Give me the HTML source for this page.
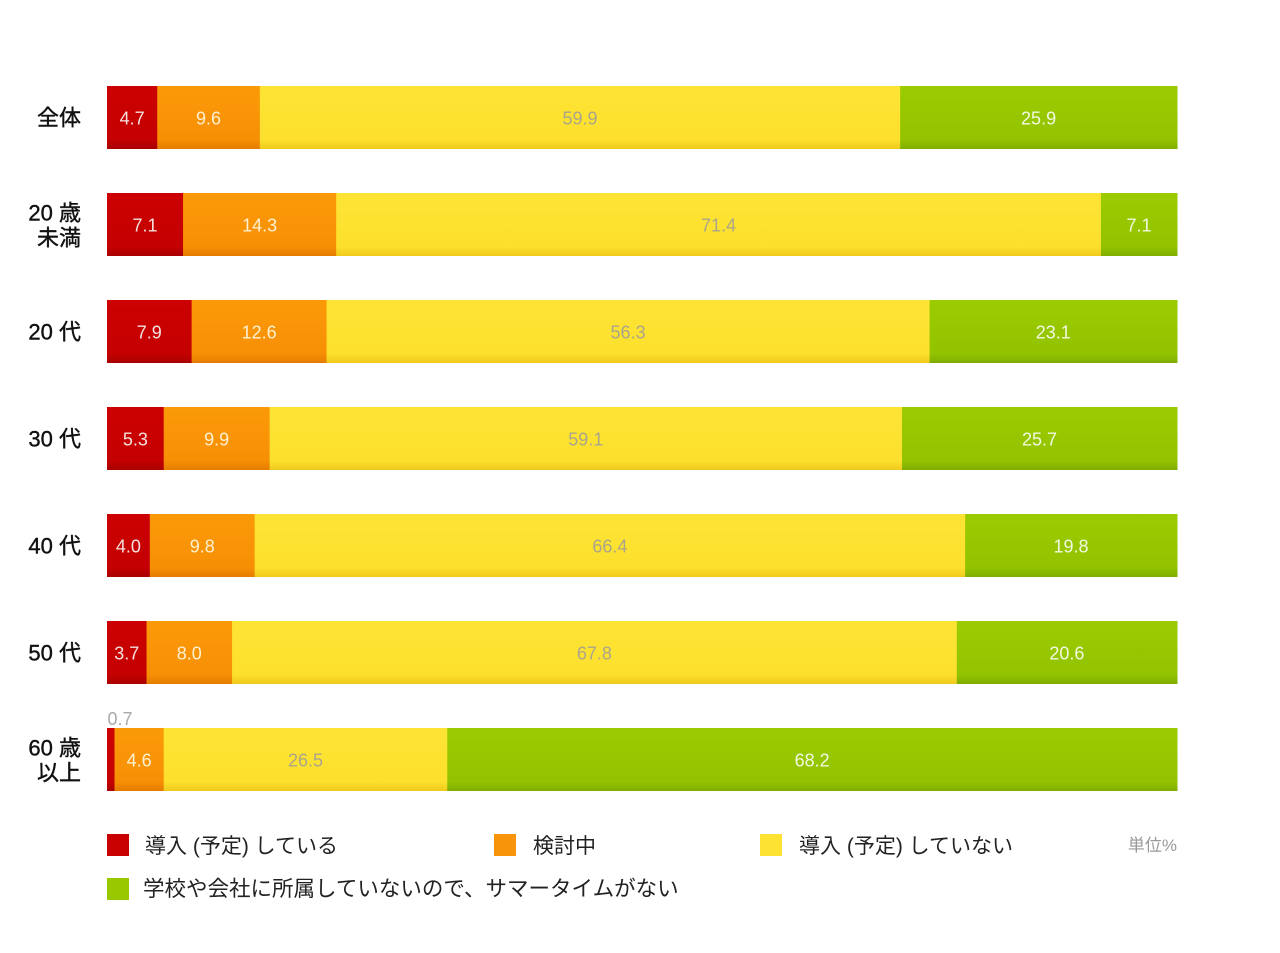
<!DOCTYPE html>
<html><head><meta charset="utf-8"><style>
body{margin:0;background:#fff;width:1280px;height:953px;overflow:hidden;font-family:"Liberation Sans","Noto Sans CJK JP",sans-serif;}
svg{display:block}
</style></head><body>
<svg id="chart" width="1280" height="953" xmlns="http://www.w3.org/2000/svg">
<defs>
<linearGradient id="gr" x1="0" y1="0" x2="0" y2="1"><stop offset="0" stop-color="#cc0000"/><stop offset="0.85" stop-color="#c40000"/><stop offset="1" stop-color="#a80000"/></linearGradient>
<linearGradient id="go" x1="0" y1="0" x2="0" y2="1"><stop offset="0" stop-color="#fb9a08"/><stop offset="0.85" stop-color="#f78f05"/><stop offset="1" stop-color="#e47c00"/></linearGradient>
<linearGradient id="gy" x1="0" y1="0" x2="0" y2="1"><stop offset="0" stop-color="#fde434"/><stop offset="0.85" stop-color="#fde02e"/><stop offset="1" stop-color="#eec91c"/></linearGradient>
<linearGradient id="gg" x1="0" y1="0" x2="0" y2="1"><stop offset="0" stop-color="#9bcb00"/><stop offset="0.85" stop-color="#93c300"/><stop offset="1" stop-color="#80ad00"/></linearGradient>
</defs>
<g id="bars"></g>
<g font-size="21" fill="#222">
<rect x="107" y="834" width="22" height="22" fill="#c80000"/>
<text x="145" y="853">導入 (予定) している</text>
<rect x="494" y="834" width="22" height="22" fill="#f7940a"/>
<text x="533" y="853">検討中</text>
<rect x="760" y="834" width="22" height="22" fill="#fde232"/>
<text x="799" y="853">導入 (予定) していない</text>
<text x="1177" y="851" text-anchor="end" font-size="17" fill="#999">単位%</text>
<rect x="107" y="878" width="22" height="22" fill="#99c800"/>
<text x="143" y="896" font-size="21.5">学校や会社に所属していないので、サマータイムがない</text>
</g>
</svg>
<script>
const categories=[["全体"],["20 歳","未満"],["20 代"],["30 代"],["40 代"],["50 代"],["60 歳","以上"]];
const adopted=[4.7,7.1,7.9,5.3,4.0,3.7,0.7];
const considering=[9.6,14.3,12.6,9.9,9.8,8.0,4.6];
const notAdopted=[59.9,71.4,56.3,59.1,66.4,67.8,26.5];
const noAffiliation=[25.9,7.1,23.1,25.7,19.8,20.6,68.2];
const series=[adopted,considering,notAdopted,noAffiliation];
const seriesNames=["adopted","considering","not-adopted","no-affiliation"];
const fills=["url(#gr)","url(#go)","url(#gy)","url(#gg)"];
const textColors=["#f4e0e0","#fff0d0","#aaa58a","#f2f8e0"];
const NS="http://www.w3.org/2000/svg";
const X0=107,X1=1177,Y0=86,STEP=107,BH=63;
function xScale(v,total){return (v/total)*(X1-X0);}
function yPos(i){return Y0+i*STEP;}
const g=document.getElementById('bars');
categories.forEach((cat,i)=>{
  const total=series.reduce((s,a)=>s+a[i],0);
  const y=yPos(i);
  const lab=document.createElementNS(NS,'text');
  
  
  lab.setAttribute('text-anchor','end');lab.setAttribute('font-size','22');lab.setAttribute('fill','#111');
  lab.setAttribute('stroke','#111');lab.setAttribute('stroke-width','0.4');
  if(cat.length===1){
    const t=document.createElementNS(NS,'tspan');t.setAttribute('x','81');t.setAttribute('y',y+BH/2+8);t.textContent=cat[0];lab.appendChild(t);
  }else{
    cat.forEach((c,k)=>{const t=document.createElementNS(NS,'tspan');t.setAttribute('x','81');t.setAttribute('y',y+BH/2-4+k*25);t.textContent=c;lab.appendChild(t);});
  }
  g.appendChild(lab);
  let x=X0;
  series.forEach((arr,s)=>{
    const w=xScale(arr[i],total);
    const r=document.createElementNS(NS,'rect');
    
    
    r.setAttribute('x',x);r.setAttribute('y',y);r.setAttribute('width',w+0.5);r.setAttribute('height',BH);r.setAttribute('fill',fills[s]);
    g.appendChild(r);
    const t=document.createElementNS(NS,'text');
    
    
    t.setAttribute('font-size','18');t.setAttribute('text-anchor','middle');
    if(w<12){t.setAttribute('x',x+13);t.setAttribute('y',y-3);t.setAttribute('fill','#aaa');}
    else{t.setAttribute('x',x+w/2);t.setAttribute('y',y+BH/2+7);t.setAttribute('fill',textColors[s]);}
    t.textContent=arr[i].toFixed(1);
    g.appendChild(t);
    x+=w;
  });
});
</script>
</body></html>
